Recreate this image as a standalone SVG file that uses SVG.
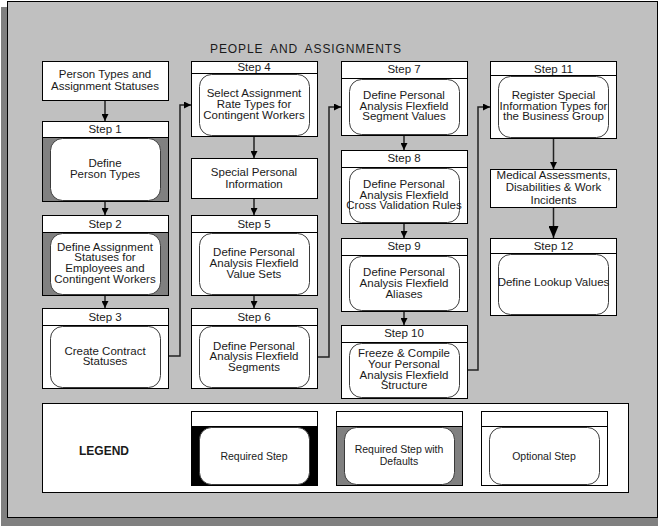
<svg xmlns="http://www.w3.org/2000/svg" width="660" height="527" viewBox="0 0 660 527">
<style>
.box{fill:#fff;stroke:#000;stroke-width:1}
.dk{fill:#808080;stroke:#000;stroke-width:1}
.blk{fill:#000;stroke:#000;stroke-width:1}
.rr{fill:#fff;stroke:#3a3a3a;stroke-width:1}
.t{font-family:"Liberation Sans",Arial,Helvetica,sans-serif;font-size:11.5px;fill:#1a1a1a;text-anchor:middle}
.lt{font-family:"Liberation Sans",Arial,Helvetica,sans-serif;font-size:10.5px;fill:#1a1a1a;text-anchor:middle}
.conn{fill:none;stroke:#222;stroke-width:1.5}
</style>
<defs>
<marker id="ah" viewBox="0 0 8 8" refX="8" refY="4" markerWidth="7" markerHeight="7" markerUnits="userSpaceOnUse" orient="auto">
<path d="M0,0 L8,4 L0,8 z" fill="#000"/>
</marker>
<marker id="ahb" viewBox="0 0 12 10" refX="12" refY="5" markerWidth="12" markerHeight="10" markerUnits="userSpaceOnUse" orient="auto">
<path d="M0,0 L12,5 L0,10 z" fill="#000"/>
</marker>
</defs>

<rect x="1" y="7" width="657" height="519" fill="#808080"/>
<rect x="7.5" y="1.5" width="650" height="516" fill="#c0c0c0" stroke="#000" stroke-width="1"/>

<text x="210" y="52.5" font-family="'Liberation Sans',Arial,sans-serif" font-size="12" letter-spacing="0.9" word-spacing="3" fill="#1a1a1a">PEOPLE AND ASSIGNMENTS</text>

<g id="connectors">
<line class="conn" x1="105" y1="100" x2="105" y2="121" marker-end="url(#ah)"/>
<line class="conn" x1="105" y1="202" x2="105" y2="215" marker-end="url(#ah)"/>
<line class="conn" x1="105" y1="296" x2="105" y2="308" marker-end="url(#ah)"/>
<polyline class="conn" points="168,356 180,356 180,105 191,105" marker-end="url(#ah)"/>
<line class="conn" x1="254" y1="136" x2="254" y2="158" marker-end="url(#ah)"/>
<line class="conn" x1="254" y1="198" x2="254" y2="215" marker-end="url(#ah)"/>
<line class="conn" x1="254" y1="296" x2="254" y2="308" marker-end="url(#ah)"/>
<polyline class="conn" points="317,357 329,357 329,107 341,107" marker-end="url(#ah)"/>
<line class="conn" x1="404" y1="136" x2="404" y2="150" marker-end="url(#ah)"/>
<line class="conn" x1="404" y1="224" x2="404" y2="238" marker-end="url(#ah)"/>
<line class="conn" x1="404" y1="312" x2="404" y2="325" marker-end="url(#ah)"/>
<polyline class="conn" points="467,370 478,370 478,107 490,107" marker-end="url(#ah)"/>
<line class="conn" x1="553.5" y1="139" x2="553.5" y2="169" marker-end="url(#ah)"/>
<line class="conn" x1="553.5" y1="208" x2="553.5" y2="238" marker-end="url(#ahb)"/>
</g>

<g id="person-types">
<rect class="box" x="42.5" y="61.5" width="126" height="39"/>
<text class="t" x="105" y="78">Person Types and</text>
<text class="t" x="105" y="90">Assignment Statuses</text>
</g>

<g id="step1">
<rect class="box" x="42.5" y="121.5" width="126" height="16"/>
<rect class="dk" x="42.5" y="137.5" width="126" height="64"/>
<rect class="rr" x="50.5" y="138.5" width="110" height="62" rx="12"/>
<text class="t" x="105" y="133">Step 1</text>
<text class="t" x="105" y="167">Define</text>
<text class="t" x="105" y="178">Person Types</text>
</g>

<g id="step2">
<rect class="box" x="42.5" y="215.5" width="126" height="17"/>
<rect class="dk" x="42.5" y="232.5" width="126" height="63"/>
<rect class="rr" x="50.5" y="233.5" width="110" height="61" rx="12"/>
<text class="t" x="105" y="227.5">Step 2</text>
<text class="t" x="105" y="250.5">Define Assignment</text>
<text class="t" x="105" y="261.2">Statuses for</text>
<text class="t" x="105" y="272">Employees and</text>
<text class="t" x="105" y="282.6">Contingent Workers</text>
</g>

<g id="step3">
<rect class="box" x="42.5" y="308.5" width="126" height="17"/>
<rect class="box" x="42.5" y="325.5" width="126" height="63"/>
<rect class="rr" x="50.5" y="326.5" width="110" height="61" rx="12"/>
<text class="t" x="105" y="320.5">Step 3</text>
<text class="t" x="105" y="354.5">Create Contract</text>
<text class="t" x="105" y="365">Statuses</text>
</g>

<g id="step4">
<rect class="box" x="191.5" y="61.5" width="126" height="12"/>
<rect class="box" x="191.5" y="73.5" width="126" height="63"/>
<rect class="rr" x="199.5" y="74.5" width="110" height="61" rx="12"/>
<text class="t" x="254" y="70.5">Step 4</text>
<text class="t" x="254" y="97">Select Assignment</text>
<text class="t" x="254" y="108">Rate Types for</text>
<text class="t" x="254" y="118.5">Contingent Workers</text>
</g>

<g id="special-personal">
<rect class="box" x="191.5" y="158.5" width="126" height="40"/>
<text class="t" x="254" y="176">Special Personal</text>
<text class="t" x="254" y="188">Information</text>
</g>

<g id="step5">
<rect class="box" x="191.5" y="215.5" width="126" height="17"/>
<rect class="box" x="191.5" y="232.5" width="126" height="63"/>
<rect class="rr" x="199.5" y="233.5" width="110" height="61" rx="12"/>
<text class="t" x="254" y="227.5">Step 5</text>
<text class="t" x="254" y="256">Define Personal</text>
<text class="t" x="254" y="267">Analysis Flexfield</text>
<text class="t" x="254" y="277.5">Value Sets</text>
</g>

<g id="step6">
<rect class="box" x="191.5" y="308.5" width="126" height="17"/>
<rect class="box" x="191.5" y="325.5" width="126" height="63"/>
<rect class="rr" x="199.5" y="326.5" width="110" height="61" rx="12"/>
<text class="t" x="254" y="320.5">Step 6</text>
<text class="t" x="254" y="349.5">Define Personal</text>
<text class="t" x="254" y="360">Analysis Flexfield</text>
<text class="t" x="254" y="370.5">Segments</text>
</g>

<g id="step7">
<rect class="box" x="341.5" y="61.5" width="126" height="17"/>
<rect class="box" x="341.5" y="78.5" width="126" height="57"/>
<rect class="rr" x="349.5" y="79.5" width="110" height="55" rx="12"/>
<text class="t" x="404" y="73">Step 7</text>
<text class="t" x="404" y="99">Define Personal</text>
<text class="t" x="404" y="109.5">Analysis Flexfield</text>
<text class="t" x="404" y="120">Segment Values</text>
</g>

<g id="step8">
<rect class="box" x="341.5" y="150.5" width="126" height="17"/>
<rect class="box" x="341.5" y="167.5" width="126" height="56"/>
<rect class="rr" x="349.5" y="168.5" width="110" height="54" rx="12"/>
<text class="t" x="404" y="162">Step 8</text>
<text class="t" x="404" y="188">Define Personal</text>
<text class="t" x="404" y="198.5">Analysis Flexfield</text>
<text class="t" x="404" y="209">Cross Validation Rules</text>
</g>

<g id="step9">
<rect class="box" x="341.5" y="238.5" width="126" height="17"/>
<rect class="box" x="341.5" y="255.5" width="126" height="56"/>
<rect class="rr" x="349.5" y="256.5" width="110" height="54" rx="12"/>
<text class="t" x="404" y="250">Step 9</text>
<text class="t" x="404" y="276">Define Personal</text>
<text class="t" x="404" y="287">Analysis Flexfield</text>
<text class="t" x="404" y="297.5">Aliases</text>
</g>

<g id="step10">
<rect class="box" x="341.5" y="325.5" width="126" height="17"/>
<rect class="box" x="341.5" y="342.5" width="126" height="56"/>
<rect class="rr" x="349.5" y="343.5" width="110" height="54" rx="12"/>
<text class="t" x="404" y="337">Step 10</text>
<text class="t" x="404" y="357">Freeze &amp; Compile</text>
<text class="t" x="404" y="368">Your Personal</text>
<text class="t" x="404" y="378.5">Analysis Flexfield</text>
<text class="t" x="404" y="389">Structure</text>
</g>

<g id="step11">
<rect class="box" x="490.5" y="61.5" width="126" height="14"/>
<rect class="box" x="490.5" y="75.5" width="126" height="63"/>
<rect class="rr" x="498.5" y="76.5" width="110" height="61" rx="12"/>
<text class="t" x="553.5" y="73">Step 11</text>
<text class="t" x="553.5" y="99">Register Special</text>
<text class="t" x="553.5" y="109.5">Information Types for</text>
<text class="t" x="553.5" y="120">the Business Group</text>
</g>

<g id="medical">
<rect class="box" x="490.5" y="169.5" width="126" height="38"/>
<text class="t" x="553.5" y="179">Medical Assessments,</text>
<text class="t" x="553.5" y="191">Disabilities &amp; Work</text>
<text class="t" x="553.5" y="204">Incidents</text>
</g>

<g id="step12">
<rect class="box" x="490.5" y="238.5" width="126" height="15"/>
<rect class="box" x="490.5" y="253.5" width="126" height="62"/>
<rect class="rr" x="498.5" y="254.5" width="110" height="60" rx="12"/>
<text class="t" x="553.5" y="250">Step 12</text>
<text class="t" x="553.5" y="286">Define Lookup Values</text>
</g>

<g id="legend">
<rect class="box" x="42.5" y="403.5" width="586" height="89"/>
<text x="104" y="455" font-family="'Liberation Sans',Arial,sans-serif" font-size="12" font-weight="bold" text-anchor="middle" fill="#1a1a1a">LEGEND</text>
<g id="legend-required">
<rect class="box" x="191.5" y="411.5" width="126" height="15"/>
<rect class="blk" x="191.5" y="426.5" width="126" height="59"/>
<rect class="rr" x="199.5" y="427.5" width="110" height="57" rx="12"/>
<text class="lt" x="254" y="460">Required Step</text>
</g>
<g id="legend-defaults">
<rect class="box" x="336.5" y="411.5" width="126" height="15"/>
<rect class="dk" x="336.5" y="426.5" width="126" height="59"/>
<rect class="rr" x="344.5" y="427.5" width="110" height="57" rx="12"/>
<text class="lt" x="399" y="452.5" font-size="10px">Required Step with</text>
<text class="lt" x="399" y="464.5" font-size="10px">Defaults</text>
</g>
<g id="legend-optional">
<rect class="box" x="481.5" y="411.5" width="126" height="15"/>
<rect class="box" x="481.5" y="426.5" width="126" height="59"/>
<rect class="rr" x="489.5" y="427.5" width="110" height="57" rx="12"/>
<text class="lt" x="544" y="460">Optional Step</text>
</g>
</g>
</svg>
